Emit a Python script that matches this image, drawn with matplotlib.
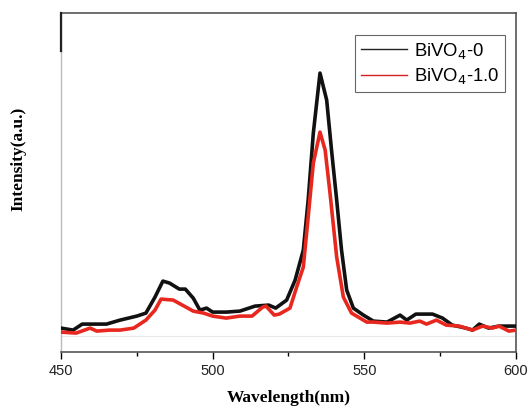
import matplotlib.pyplot as plt
from matplotlib.ticker import MultipleLocator

# wavelength (nm) and intensity (a.u.)
wl_0 = [450, 454, 457, 465, 469.5, 475, 478, 481, 483.6, 485.8, 489, 491, 493.6,
        495.8, 498, 500, 504.5, 509, 514, 518.5, 520.8, 524.4, 527.2, 529.9, 531.5,
        533.2, 535.4, 537.6, 539.2, 540.9, 542.5, 544.2, 546.4, 549.7, 553, 557.5,
        561.8, 564, 567, 572.5, 575.8, 579, 583.5, 585.7, 587.9, 591, 594.4, 598.8, 600]
int_0 = [8, 6, 12, 12, 16, 20, 23, 39, 55, 53, 47, 47, 38,
         26, 28, 24, 24, 25, 30, 31, 28, 36, 56, 86, 136,
         203, 263, 236, 186, 136, 86, 46, 28, 21, 15, 14,
         21, 16, 22, 22, 18, 11, 8, 6, 12, 8, 10, 10, 10]

wl_1 = [450, 455, 459.6, 461.8, 466, 469.5, 474, 478, 481, 483, 487, 490, 493.6,
        497, 500, 504.5, 509, 513, 516.5, 517.6, 520.3, 522, 525.5, 527.7, 529.9,
        531.5, 533.2, 535.4, 537.1, 538.7, 540.9, 543.1, 545.8, 550.8, 553, 557.5,
        561.8, 565, 568.3, 570.5, 573.8, 577, 581.3, 585.7, 589, 592.2, 594.4, 597.7, 600]
int_1 = [4, 3, 8, 5, 6, 6, 8, 16, 26, 37, 36, 31, 25,
         23, 20, 18, 20, 20, 29, 30, 21, 22, 28, 49, 69,
         119, 173, 204, 186, 143, 79, 39, 23, 14, 14, 13,
         14, 13, 15, 12, 16, 11, 10, 6, 10, 8, 10, 5, 6]

fig = plt.figure(figsize=(5.27, 4.08), dpi=100)
ax = fig.add_axes([0.1157, 0.137, 0.8633, 0.831])

ax.axhline(0, color='#e8e8e8', lw=0.8, zorder=1)
ax.plot(wl_0, int_0, color='#111111', lw=2.6, zorder=3)
ax.plot(wl_1, int_1, color='#e8281e', lw=2.6, zorder=4)

# legend handles are thin lines
h0, = ax.plot([], [], color='#222222', lw=1, label='BiVO$_4$-0')
h1, = ax.plot([], [], color='#d81e1e', lw=1, label='BiVO$_4$-1.0')
leg = ax.legend(handles=[h0, h1], loc='upper right', bbox_to_anchor=(0.976, 0.935),
                borderaxespad=0, fancybox=False, framealpha=1, edgecolor='#666666',
                prop={'family': 'Liberation Sans', 'size': 13.3},
                handlelength=2.5, handletextpad=0.4, borderpad=0.3, labelspacing=0.3)
leg.get_frame().set_linewidth(0.8)

ax.set_xlim(450, 600)
ax.set_ylim(-16, 323)
ax.set_yticks([])
ax.xaxis.set_major_locator(MultipleLocator(50))
ax.xaxis.set_minor_locator(MultipleLocator(25))
ax.tick_params(axis='x', which='major', direction='out', length=5, width=1, labelsize=10.5)
ax.tick_params(axis='x', which='minor', direction='out', length=3, width=1)
for lab in ax.get_xticklabels():
    lab.set_family('Liberation Sans')
    lab.set_color('#222222')

for s in ['top', 'right', 'bottom']:
    ax.spines[s].set_color('#555555')
    ax.spines[s].set_linewidth(1.2)
ax.spines['left'].set_color('#bbbbbb')
ax.spines['left'].set_linewidth(1.0)
ax.plot([0, 0], [0.888, 1], color='#222222', lw=1.6, transform=ax.transAxes,
        clip_on=False, zorder=5)

ax.set_xlabel('Wavelength(nm)', family='Liberation Serif', fontweight='bold',
              fontsize=12.5, labelpad=9)
ax.set_ylabel('Intensity(a.u.)', family='Liberation Serif', fontweight='bold',
              fontsize=12.5)
ax.yaxis.set_label_coords(-0.075, 0.57)

fig.savefig('out.png', dpi=100)
